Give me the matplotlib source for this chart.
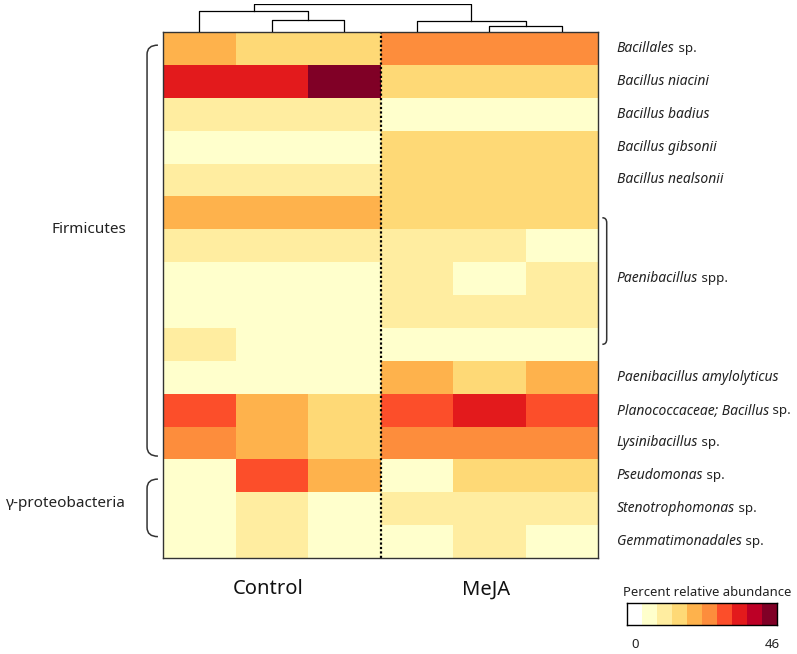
import numpy as np
import matplotlib.pyplot as plt
from matplotlib import font_manager as fm
from matplotlib.colors import ListedColormap, BoundaryNorm
from matplotlib.path import Path
from matplotlib.patches import PathPatch

plt.rcParams['font.family'] = ['Noto Sans', 'DejaVu Sans']

# samples (3 control, 3 MeJA)
groups = ['Control', 'MeJA']
n_rep = 3

# row labels: italic part, plain part
lab_it = ['Bacillales', 'Bacillus niacini', 'Bacillus badius', 'Bacillus gibsonii',
          'Bacillus nealsonii', '', '', 'Paenibacillus', '', '',
          'Paenibacillus amylolyticus', 'Planococcaceae; Bacillus', 'Lysinibacillus',
          'Pseudomonas', 'Stenotrophomonas', 'Gemmatimonadales']
lab_rm = ['sp.', '', '', '', '', '', '', 'spp.', '', '',
          '', 'sp.', 'sp.', 'sp.', 'sp.', 'sp.']

# percent relative abundance (rows x samples)
abund = np.array([
    [21, 16, 16, 25, 25, 25],
    [34, 34, 44, 16, 16, 16],
    [11, 11, 11, 7, 7, 7],
    [7, 7, 7, 16, 16, 16],
    [11, 11, 11, 16, 16, 16],
    [21, 21, 21, 16, 16, 16],
    [11, 11, 11, 11, 11, 7],
    [7, 7, 7, 11, 7, 11],
    [7, 7, 7, 11, 11, 11],
    [11, 7, 7, 7, 7, 7],
    [7, 7, 7, 21, 16, 21],
    [30, 21, 16, 30, 34, 30],
    [25, 21, 16, 25, 25, 25],
    [7, 30, 21, 7, 16, 16],
    [7, 11, 7, 11, 11, 11],
    [7, 11, 7, 7, 11, 7],
])
vmax = 46

# column dendrogram merges: (a, b, height)
merges = [(1, 2, 12.5), (0, 6, 20.7), (4, 5, 6.0), (3, 8, 11.0), (7, 9, 27.7)]

# phylum brackets (row span, label row)
phyla = [('Firmicutes', 0.4, 12.9, 6.0), ('γ-proteobacteria', 13.6, 15.35, 14.35)]
paeni_span = (5.65, 9.5)

colors = ['#FFFFFF', '#FFFFCC', '#FFEDA0', '#FED976', '#FEB24C',
          '#FD8D3C', '#FC4E2A', '#E31A1C', '#BD0026', '#800026']
cmap = ListedColormap(colors)
bounds = np.linspace(0, vmax, len(colors) + 1)
norm = BoundaryNorm(bounds, cmap.N)

# pick a non-condensed italic face
it_files = [f.fname for f in fm.fontManager.ttflist
            if f.name in ('Open Sans', 'Noto Sans') and f.style == 'italic'
            and f.stretch == 'normal' and f.weight in (400, 'normal', 'regular')]
if it_files:
    it_prop = fm.FontProperties(fname=sorted(it_files)[0], size=10.0)
else:
    it_prop = fm.FontProperties(family='DejaVu Sans', style='italic', size=7.8)
rm_prop = fm.FontProperties(family='Noto Sans', size=9.6)

fig = plt.figure(figsize=(7.97, 6.54), dpi=100)
W, H = 797, 654
x0, x1, y0, y1 = 163, 598, 32, 558
ax = fig.add_axes([x0 / W, 1 - y1 / H, (x1 - x0) / W, (y1 - y0) / H])
nr, nc = abund.shape
ax.pcolormesh(np.arange(nc + 1), np.arange(nr + 1), abund, cmap=cmap, norm=norm)
ax.set_xlim(0, nc)
ax.set_ylim(nr, 0)
ax.set_xticks([])
ax.set_yticks([])
for s in ax.spines.values():
    s.set_linewidth(1.0)
    s.set_color('#333333')
ax.axvline(n_rep, color='black', ls=(0, (1, 1)), lw=1.6)

# row labels
for i in range(nr):
    if not lab_it[i]:
        continue
    t = ax.text(6.26, i + 0.5, lab_it[i], fontproperties=it_prop,
                va='center', ha='left', color='#222222')
    if lab_rm[i]:
        ax.annotate(' ' + lab_rm[i], xy=(1, 0.5), xycoords=t, va='center',
                    ha='left', fontproperties=rm_prop, color='#222222')


def bracket(xl, xe, ya, yb, r=0.28):
    verts = [(xe, ya), (xl, ya), (xl, ya + r), (xl, yb - r), (xl, yb), (xe, yb)]
    codes = [Path.MOVETO, Path.CURVE3, Path.CURVE3, Path.LINETO, Path.CURVE3, Path.CURVE3]
    ax.add_patch(PathPatch(Path(verts, codes), fill=False, lw=1.1,
                           edgecolor='#333333', clip_on=False))


for name, a, b, ty in phyla:
    bracket(-0.22, -0.07, a, b)
    ax.text(-0.51, ty, name, ha='right', va='center', fontsize=11, color='#222222')
bracket(6.12, 6.06, paeni_span[0], paeni_span[1], r=0.15)

# group labels
for g, name in enumerate(groups):
    ax.text(g * n_rep + n_rep / 2 - 0.05, nr + 0.95, name, ha='center', va='center',
            fontsize=14.5, color='#111111')

# dendrogram
dax = fig.add_axes([x0 / W, 1 - y0 / H, (x1 - x0) / W, 28.5 / H])
dax.set_xlim(0, nc)
dax.set_ylim(0, 28.5)
dax.axis('off')
pos = {i: i + 0.5 for i in range(nc)}
hgt = {i: 0.0 for i in range(nc)}
for k, (a, b, h) in enumerate(merges):
    xa, xb = pos[a], pos[b]
    dax.plot([xa, xa, xb, xb], [hgt[a], h, h, hgt[b]], color='black', lw=0.9)
    pos[nc + k] = (xa + xb) / 2
    hgt[nc + k] = h

# colour key
cax = fig.add_axes([627 / W, 1 - 625 / H, 150 / W, 22 / H])
cax.pcolormesh(bounds, [0, 1], ((bounds[:-1] + bounds[1:]) / 2)[None, :], cmap=cmap, norm=norm)
cax.set_xlim(0, vmax)
cax.set_xticks([])
cax.set_yticks([])
for s in cax.spines.values():
    s.set_linewidth(1.0)
fig.text(707 / W, 1 - 592 / H, 'Percent relative abundance', ha='center', va='center',
         fontsize=9.4, color='#222222')
fig.text(635 / W, 1 - 644 / H, '0', ha='center', va='center', fontsize=9.5, color='#222222')
fig.text(772 / W, 1 - 644 / H, str(vmax), ha='center', va='center', fontsize=9.5, color='#222222')

fig.savefig('out.png', dpi=100)
